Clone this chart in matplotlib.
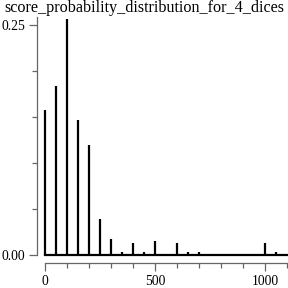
import matplotlib
matplotlib.use("Agg")
import matplotlib.pyplot as plt
from matplotlib.ticker import FixedLocator

plt.rcParams['font.family'] = ['Liberation Serif', 'DejaVu Serif']

scores = [0, 50, 100, 150, 200, 250, 300, 350, 400, 450, 500, 550, 600, 650, 700, 1000, 1050]
probs = [0.158, 0.184, 0.257, 0.147, 0.120, 0.039, 0.017, 0.003, 0.0128, 0.003, 0.015,
         0.001, 0.0128, 0.003, 0.003, 0.0127, 0.003]
title = "score_probability_distribution_for_4_dices"
x_major = [0, 500, 1000]
x_minor = [100, 200, 300, 400, 600, 700, 800, 900, 1100]
y_major = [0.0, 0.25]
y_minor = [0.05, 0.10, 0.15, 0.20]

W = H = 288
fig = plt.figure(figsize=(2.88, 2.88), dpi=100)
ax = fig.add_axes([45 / W, (288 - 255) / H, (288 - 45) / W, 238.5 / H])
ax.set_xlim(0, 1104.5)
ax.set_ylim(0, 0.2592)

ax.vlines(scores, 0, probs, color='black', linewidth=1.6, clip_on=False)
ax.axhline(0, color='black', linewidth=1.6, clip_on=False)

for s in ['top', 'right']:
    ax.spines[s].set_visible(False)
ax.spines['left'].set_position(('outward', 6))
ax.spines['bottom'].set_position(('outward', 5.5))
for s in ['left', 'bottom']:
    ax.spines[s].set_color('#666666')
    ax.spines[s].set_linewidth(0.9)

ax.xaxis.set_major_locator(FixedLocator(x_major))
ax.xaxis.set_minor_locator(FixedLocator(x_minor))
ax.yaxis.set_major_locator(FixedLocator(y_major))
ax.yaxis.set_minor_locator(FixedLocator(y_minor))
ax.set_xticklabels([str(v) for v in x_major])
ax.set_yticklabels([f"{v:.2f}" for v in y_major])
ax.tick_params(which='major', length=5.8, width=0.9, color='#666666', labelsize=9.8, pad=2.5)
ax.tick_params(which='minor', length=3.6, width=0.9, color='#666666')
ax.tick_params(axis='x', which='major', pad=3)

fig.text(0.5, 1 - 8.5 / H, title, ha='center', va='center', fontsize=11.6)

fig.savefig("out.png", dpi=100)
